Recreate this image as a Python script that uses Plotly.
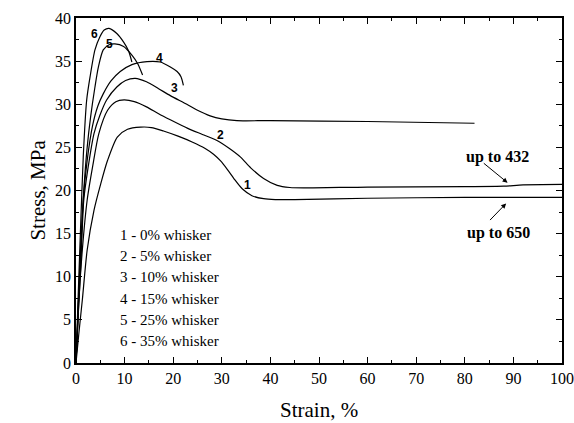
import plotly.graph_objects as go

# ---- data ----
c1_strain = [0, 0.6, 1.3, 2.3, 3.7, 5.1, 6.5, 8.5, 10.6, 13.3, 15.5, 18, 21, 24, 26.5, 28.3, 29.8, 31.2, 32.6, 34.2, 36.2, 38.6, 41, 45, 60, 80, 100]
c1_stress = [0, 3.5, 7.3, 13.1, 17.7, 20.8, 23.5, 26.2, 27.1, 27.35, 27.3, 26.9, 26.3, 25.6, 24.9, 24.2, 23.4, 22.4, 21.3, 20.2, 19.4, 19.05, 18.95, 18.95, 19.1, 19.2, 19.2]

c2_strain = [0, 0.6, 1.3, 2.3, 3.4, 4.7, 6.5, 8.2, 9.9, 12, 14.5, 17, 19.4, 23, 26, 29, 31.5, 33.8, 36, 38.6, 41.4, 44, 46.8, 60, 80, 88, 92, 100]
c2_stress = [0, 7.3, 13.1, 18.9, 22.7, 26.6, 29.3, 30.3, 30.5, 30.3, 29.7, 28.9, 28.2, 27.2, 26.5, 25.8, 24.9, 23.9, 22.6, 21.4, 20.6, 20.35, 20.3, 20.4, 20.45, 20.5, 20.65, 20.7]

c3_strain = [0, 0.5, 1.0, 1.6, 2.5, 3.7, 4.9, 6.3, 8.4, 10.2, 12.2, 14.5, 17, 19.4, 22.8, 25, 27.6, 30, 33.1, 40, 60, 82]
c3_stress = [0, 6, 11.5, 18.9, 22.7, 26.6, 28.7, 30.5, 32.0, 32.75, 33.0, 32.6, 31.8, 31.0, 30.0, 29.3, 28.65, 28.3, 28.1, 28.1, 28.0, 27.8]

c4_strain = [0, 0.5, 1.0, 1.5, 2.3, 3.4, 4.5, 5.6, 7.2, 9.1, 11.5, 14.6, 17.3, 19.5, 20.8, 21.6, 22.1]
c4_stress = [0, 7, 13, 19, 23.5, 27.5, 29.8, 31.2, 32.7, 33.8, 34.6, 34.95, 34.9, 34.3, 33.8, 33.2, 32.2]

c5_strain = [0, 0.5, 1.0, 1.6, 2.3, 3.0, 3.9, 4.6, 5.6, 6.8, 8.0, 9.8, 11.5, 12.7, 13.7]
c5_stress = [0, 7, 14, 20, 25, 28.5, 32.0, 34.3, 36.3, 36.9, 37.0, 36.7, 35.7, 34.7, 33.4]

c6_strain = [0, 0.4, 0.9, 1.5, 2.2, 2.9, 3.9, 4.9, 5.8, 6.8, 8.4, 9.8, 10.8, 11.5]
c6_stress = [0, 7, 15, 24, 30.5, 33.2, 36.3, 37.8, 38.6, 38.8, 38.2, 37.2, 36.2, 34.9]

curve_ids = ["1", "2", "3", "4", "5", "6"]
label_x = [35.2, 29.7, 20.2, 17.2, 6.9, 3.8]
label_y = [20.6, 26.4, 31.9, 35.4, 37.0, 38.2]

legend_lines = ["1 - 0% whisker", "2 - 5% whisker", "3 - 10% whisker",
                "4 - 15% whisker", "5 - 25% whisker", "6 - 35% whisker"]
legend_y = [14.8, 12.4, 10.0, 7.4, 5.0, 2.5]
legend_x = 8.7

x_ticks = [0, 10, 20, 30, 40, 50, 60, 70, 80, 90, 100]
y_ticks = [0, 5, 10, 15, 20, 25, 30, 35, 40]

curves = [(c1_strain, c1_stress), (c2_strain, c2_stress), (c3_strain, c3_stress),
          (c4_strain, c4_stress), (c5_strain, c5_stress), (c6_strain, c6_stress)]

fig = go.Figure()
for xs, ys in curves:
    fig.add_trace(go.Scatter(x=xs, y=ys, mode="lines",
                             line=dict(color="black", width=1.2, shape="spline", smoothing=0.7),
                             showlegend=False, hoverinfo="skip"))

serif = "Liberation Serif, Times New Roman, serif"
sans = "Liberation Sans, Arial, sans-serif"

for t, x, y in zip(curve_ids, label_x, label_y):
    fig.add_annotation(x=x, y=y, text="<b>" + t + "</b>", showarrow=False,
                       font=dict(family=sans, size=12, color="black"))

for t, y in zip(legend_lines, legend_y):
    fig.add_annotation(x=legend_x, y=y, text=t, showarrow=False, xanchor="left",
                       font=dict(family=serif, size=15, color="black"))

# arrows with notes
fig.add_annotation(x=88.8, y=20.9, ax=83.6, ay=23.3, axref="x", ayref="y",
                   showarrow=True, arrowhead=2, arrowsize=1, arrowwidth=1, arrowcolor="black", text="")
fig.add_annotation(x=86.7, y=23.9, text="<b>up to 432</b>", showarrow=False,
                   font=dict(family=serif, size=16, color="black"))
fig.add_annotation(x=88.5, y=18.5, ax=84.9, ay=16.4, axref="x", ayref="y",
                   showarrow=True, arrowhead=2, arrowsize=1, arrowwidth=1, arrowcolor="black", text="")
fig.add_annotation(x=87.0, y=15.1, text="<b>up to 650</b>", showarrow=False,
                   font=dict(family=serif, size=16, color="black"))

# axis titles
fig.add_annotation(xref="paper", yref="paper", x=0.5, y=-0.135, yanchor="middle",
                   text="Strain, %", showarrow=False,
                   font=dict(family=serif, size=21, color="black"))
fig.add_annotation(xref="paper", yref="paper", x=-0.08, y=0.5, xanchor="center",
                   text="Stress, MPa", showarrow=False, textangle=-90,
                   font=dict(family=serif, size=21, color="black"))

axis_common = dict(showline=True, linecolor="black", linewidth=1.5, mirror="ticks",
                   ticks="inside", ticklen=6, tickwidth=1.2, tickcolor="black",
                   showgrid=False, zeroline=False, automargin=False,
                   tickfont=dict(family=serif, size=16, color="black"))

fig.update_xaxes(range=[0, 100], tickvals=x_ticks, ticktext=[str(v) for v in x_ticks],
                 minor=dict(dtick=5, tick0=0, ticks="inside", ticklen=3, tickcolor="black", showgrid=False),
                 **axis_common)
fig.update_yaxes(range=[0, 40], tickvals=y_ticks, ticktext=[str(v) for v in y_ticks],
                 minor=dict(dtick=2.5, tick0=0, ticks="inside", ticklen=3, tickcolor="black", showgrid=False),
                 **axis_common)

fig.update_layout(width=574, height=423, margin=dict(l=76, r=12, t=18, b=60),
                  plot_bgcolor="white", paper_bgcolor="white")

fig.write_html("out.html", config={"displayModeBar": False},
               post_script="document.body.style.margin='0';")
